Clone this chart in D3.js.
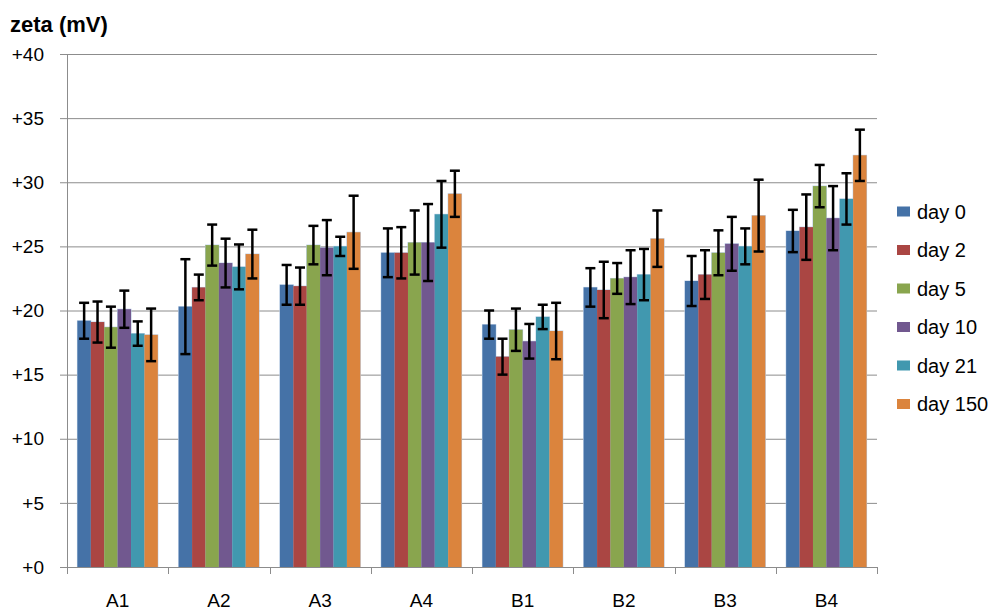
<!DOCTYPE html>
<html>
<head>
<meta charset="utf-8">
<script src="https://cdn.jsdelivr.net/npm/d3@7"></script>
<style>
  body { margin: 0; background: #fff; }
  text { font-family: "Liberation Sans", Arial, sans-serif; fill: #000; }
</style>
</head>
<body>
<svg id="chart" width="995" height="610"></svg>
<script>
const categories = ['A1', 'A2', 'A3', 'A4', 'B1', 'B2', 'B3', 'B4']
const seriesNames = ['day 0', 'day 2', 'day 5', 'day 10', 'day 21', 'day 150']
const colors = ['#4572A7', '#AA4643', '#89A54E', '#71588F', '#4198AF', '#DB843D']

// mean zeta per series, one entry per category
const day0   = [19.2, 20.3, 22.0, 24.5, 18.9, 21.8, 22.3, 26.2]
const day2   = [19.1, 21.8, 21.9, 24.5, 16.4, 21.6, 22.8, 26.5]
const day5   = [18.7, 25.1, 25.1, 25.3, 18.5, 22.5, 24.5, 29.7]
const day10  = [20.1, 23.7, 24.9, 25.3, 17.6, 22.6, 25.2, 27.2]
const day21  = [18.2, 23.4, 25.0, 27.5, 19.5, 22.8, 25.0, 28.7]
const day150 = [18.1, 24.4, 26.1, 29.1, 18.4, 25.6, 27.4, 32.1]

// error bar half-lengths
const err0   = [1.4, 3.7, 1.55, 1.9, 1.1, 1.5, 1.95, 1.65]
const err2   = [1.6, 1.0, 1.45, 2.0, 1.4, 2.2, 1.9, 2.55]
const err5   = [1.6, 1.6, 1.5, 2.5, 1.65, 1.2, 1.75, 1.65]
const err10  = [1.45, 1.9, 2.15, 3.0, 1.35, 2.1, 2.1, 2.5]
const err21  = [0.95, 1.75, 0.75, 2.6, 0.95, 2.0, 1.4, 2.0]
const err150 = [2.05, 1.9, 2.85, 1.8, 2.2, 2.2, 2.8, 2.0]

const yTicks = [0, 5, 10, 15, 20, 25, 30, 35, 40]

const values = [day0, day2, day5, day10, day21, day150]
const errors = [err0, err2, err5, err10, err21, err150]

const data = []
categories.forEach((c, ci) => {
	seriesNames.forEach((s, si) => {
		data.push({cat: c, series: s, si: si, value: values[si][ci], err: errors[si][ci]})
	})
})

const svg = d3.select('#chart')

const plotLeft = 67, plotRight = 877, plotTop = 54, plotBottom = 567

const xScale = d3.scaleBand()
	.domain(categories)
	.range([plotLeft, plotRight])
	.paddingInner(0.206)
	.paddingOuter(0.103)

const xSub = d3.scaleBand()
	.domain(seriesNames)
	.range([0, xScale.bandwidth()])

const yScale = d3.scaleLinear()
	.domain([0, 40])
	.range([plotBottom, plotTop])

// gridlines
svg.append('g')
	.selectAll('line')
	.data(yTicks)
	.enter()
	.append('line')
	.attr('x1', plotLeft - 7)
	.attr('x2', plotRight)
	.attr('y1', d => yScale(d) + 0.5)
	.attr('y2', d => yScale(d) + 0.5)
	.attr('stroke', '#8c8c8c')
	.attr('stroke-width', 1)

// y labels
svg.append('g')
	.selectAll('text')
	.data(yTicks)
	.enter()
	.append('text')
	.attr('x', 44)
	.attr('y', d => yScale(d))
	.attr('dy', '0.35em')
	.attr('text-anchor', 'end')
	.attr('font-size', 19)
	.text(d => '+' + d)

// y axis line
svg.append('line')
	.attr('x1', plotLeft + 0.5).attr('x2', plotLeft + 0.5)
	.attr('y1', plotTop).attr('y2', plotBottom)
	.attr('stroke', '#8c8c8c')

// light outline round each group, like the spreadsheet bars
svg.append('g')
	.selectAll('rect')
	.data(data)
	.enter()
	.append('rect')
	.attr('x', d => xScale(d.cat) + xSub(d.series) - 0.5)
	.attr('y', d => yScale(d.value) - 0.5)
	.attr('width', xSub.bandwidth() + 1)
	.attr('height', d => yScale(0) - yScale(d.value) + 0.5)
	.attr('fill', '#b9cde5')

// bars
svg.append('g')
	.selectAll('rect')
	.data(data)
	.enter()
	.append('rect')
	.attr('x', d => xScale(d.cat) + xSub(d.series))
	.attr('y', d => yScale(d.value))
	.attr('width', xSub.bandwidth())
	.attr('height', d => yScale(0) - yScale(d.value))
	.attr('fill', d => colors[d.si])

// error bars
const capW = 10
const eb = svg.append('g')
	.attr('stroke', '#000')
	.attr('stroke-width', 2.5)
	.selectAll('g')
	.data(data)
	.enter()
	.append('g')
	.attr('transform', d => `translate(${xScale(d.cat) + xSub(d.series) + xSub.bandwidth() / 2}, 0)`)

eb.append('line')
	.attr('x1', 0).attr('x2', 0)
	.attr('y1', d => yScale(d.value + d.err))
	.attr('y2', d => yScale(d.value - d.err))
eb.append('line')
	.attr('x1', -capW / 2).attr('x2', capW / 2)
	.attr('y1', d => yScale(d.value + d.err))
	.attr('y2', d => yScale(d.value + d.err))
eb.append('line')
	.attr('x1', -capW / 2).attr('x2', capW / 2)
	.attr('y1', d => yScale(d.value - d.err))
	.attr('y2', d => yScale(d.value - d.err))

// x axis
const xAxisLine = svg.append('g')
xAxisLine.append('line')
	.attr('x1', plotLeft).attr('x2', plotRight + 1)
	.attr('y1', plotBottom + 0.5).attr('y2', plotBottom + 0.5)
	.attr('stroke', '#8c8c8c')

const step = xScale.step()
const boundaries = d3.range(categories.length + 1).map(i => plotLeft + i * step)
xAxisLine.selectAll('.xtick')
	.data(boundaries)
	.enter()
	.append('line')
	.attr('class', 'xtick')
	.attr('x1', d => Math.round(d) + 0.5)
	.attr('x2', d => Math.round(d) + 0.5)
	.attr('y1', plotBottom)
	.attr('y2', plotBottom + 7)
	.attr('stroke', '#8c8c8c')

svg.append('g')
	.selectAll('text')
	.data(categories)
	.enter()
	.append('text')
	.attr('x', d => xScale(d) + xScale.bandwidth() / 2)
	.attr('y', 607)
	.attr('text-anchor', 'middle')
	.attr('font-size', 19)
	.text(d => d)

// title
svg.append('text')
	.attr('x', 10)
	.attr('y', 32)
	.attr('font-size', 22)
	.attr('font-weight', 'bold')
	.text('zeta (mV)')

// legend
const legend = svg.append('g')
	.selectAll('g')
	.data(seriesNames)
	.enter()
	.append('g')
	.attr('transform', (d, i) => `translate(897, ${211.5 + i * 38.5})`)

legend.append('rect')
	.attr('x', 0)
	.attr('y', -5)
	.attr('width', 13)
	.attr('height', 10)
	.attr('fill', (d, i) => colors[i])

legend.append('text')
	.attr('x', 20)
	.attr('y', 0)
	.attr('dy', '0.35em')
	.attr('font-size', 20)
	.attr('fill', '#262626')
	.text(d => d)
</script>
</body>
</html>
